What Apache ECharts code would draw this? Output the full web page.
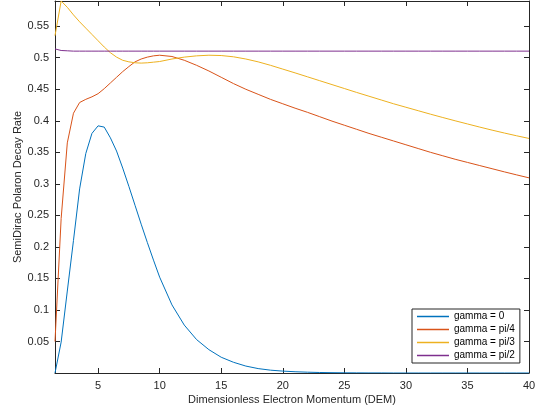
<!DOCTYPE html>
<html>
<head>
<meta charset="utf-8">
<script src="https://cdn.jsdelivr.net/npm/echarts@6/dist/echarts.min.js"></script>
<style>
  html, body { margin: 0; padding: 0; background: #ffffff; }
  #chart { width: 539px; height: 414px; }
</style>
</head>
<body>
<div id="chart"></div>
<script>
// Dimensionless electron momentum samples
const momentum = [1.5, 2, 2.5, 3, 3.5, 4, 4.5, 5, 5.5, 6, 6.5, 7, 7.5, 8, 8.5, 9, 9.5, 10,
  11, 12, 13, 14, 15, 16, 17, 18, 19, 20, 21, 22, 23, 24, 25, 26, 27, 28, 29, 30,
  31, 32, 33, 34, 35, 36, 37, 38, 39, 40];

// Decay rate for each gamma
const rateGamma0 = [0, 0.049, 0.13, 0.21, 0.292, 0.348, 0.380, 0.392, 0.390, 0.373, 0.352, 0.325, 0.296, 0.266, 0.236, 0.207, 0.179, 0.152,
  0.108, 0.076, 0.053, 0.037, 0.025, 0.017, 0.011, 0.007, 0.0045, 0.003, 0.002, 0.0013, 0.0008, 0.0005, 0.0003, 0.0002, 0.0001, 0.0001, 0, 0,
  0, 0, 0, 0, 0, 0, 0, 0, 0, 0];
const rateGammaPi4 = [0.05, 0.245, 0.365, 0.412, 0.429, 0.434, 0.438, 0.443, 0.451, 0.460, 0.469, 0.478, 0.486, 0.4935, 0.498, 0.501, 0.503, 0.504,
  0.502, 0.496, 0.488, 0.479, 0.469, 0.459, 0.450, 0.442, 0.434, 0.427, 0.420, 0.4135, 0.4065, 0.3995, 0.393, 0.3865, 0.380, 0.374, 0.368, 0.362,
  0.356, 0.350, 0.3445, 0.339, 0.334, 0.329, 0.324, 0.319, 0.3142, 0.3095];
const rateGammaPi3 = [0.535, 0.590, 0.580, 0.568, 0.557, 0.547, 0.537, 0.527, 0.517, 0.508, 0.501, 0.496, 0.4935, 0.492, 0.4915, 0.492, 0.493, 0.494,
  0.498, 0.501, 0.503, 0.504, 0.5035, 0.5015, 0.498, 0.4935, 0.488, 0.482, 0.476, 0.4698, 0.4636, 0.4574, 0.4512, 0.445, 0.439, 0.433, 0.427, 0.4215,
  0.416, 0.4105, 0.4052, 0.400, 0.395, 0.390, 0.3852, 0.3806, 0.3762, 0.372];
const rateGammaPi2 = [0.514, 0.5115, 0.511, 0.5105, 0.5105, 0.5105, 0.5105, 0.5105, 0.5105, 0.5105, 0.5105, 0.5105, 0.5105, 0.5105, 0.5105, 0.5105, 0.5105, 0.5105,
  0.5105, 0.5105, 0.5105, 0.5105, 0.5105, 0.5105, 0.5105, 0.5105, 0.5105, 0.5105, 0.5105, 0.5105, 0.5105, 0.5105, 0.5105, 0.5105, 0.5105, 0.5105, 0.5105, 0.5105,
  0.5105, 0.5105, 0.5105, 0.5105, 0.5105, 0.5105, 0.5105, 0.5105, 0.5105, 0.5105];

const seriesNames = ['gamma = 0', 'gamma = pi/4', 'gamma = pi/3', 'gamma = pi/2'];
const seriesColors = ['#0072BD', '#D95319', '#EDB120', '#7E2F8E'];
const seriesRates = [rateGamma0, rateGammaPi4, rateGammaPi3, rateGammaPi2];

// Tick positions
const xTicks = [5, 10, 15, 20, 25, 30, 35, 40];
const yTicks = [0.05, 0.1, 0.15, 0.2, 0.25, 0.3, 0.35, 0.4, 0.45, 0.5, 0.55];

const X_MIN = 1.5, X_MAX = 40, Y_MIN = 0, Y_MAX = 0.59;
const FONT = '"Liberation Sans", Arial, Helvetica, sans-serif';
const AXIS_COLOR = '#262626';

// Box-style frame axis: line plus inward ticks, no labels
function frameAxis(position, ticks, isX) {
  return {
    type: 'value',
    position: position,
    min: isX ? X_MIN : Y_MIN,
    max: isX ? X_MAX : Y_MAX,
    axisLine: { show: true, onZero: false, lineStyle: { color: AXIS_COLOR, width: 1 } },
    axisTick: { show: true, inside: true, length: 5, customValues: ticks, lineStyle: { color: AXIS_COLOR, width: 1 } },
    axisLabel: { show: false },
    splitLine: { show: false }
  };
}

const chart = echarts.init(document.getElementById('chart'), null, { renderer: 'canvas' });

const xBottom = Object.assign(frameAxis('bottom', xTicks, true), {
  axisLabel: {
    show: true, customValues: xTicks, color: AXIS_COLOR, fontSize: 11, fontFamily: FONT, margin: 7,
    formatter: v => String(v)
  },
  name: 'Dimensionless Electron Momentum (DEM)',
  nameLocation: 'middle',
  nameGap: 21,
  nameMoveOverlap: false,
  nameTextStyle: { color: AXIS_COLOR, fontSize: 11, fontFamily: FONT }
});
const xTop = frameAxis('top', xTicks, true);

const yLeft = Object.assign(frameAxis('left', yTicks, false), {
  axisLabel: {
    show: true, customValues: yTicks, color: AXIS_COLOR, fontSize: 11, fontFamily: FONT, margin: 6,
    formatter: v => String(+Number(v).toFixed(2))
  },
  name: 'SemiDirac Polaron Decay Rate',
  nameLocation: 'middle',
  nameGap: 32,
  nameMoveOverlap: false,
  nameTextStyle: { color: AXIS_COLOR, fontSize: 11, fontFamily: FONT }
});
const yRight = frameAxis('right', yTicks, false);

chart.setOption({
  animation: false,
  backgroundColor: '#ffffff',
  grid: { left: 55, right: 10, top: 1, bottom: 41, containLabel: false },
  xAxis: [xBottom, xTop],
  yAxis: [yLeft, yRight],
  legend: {
    orient: 'vertical',
    left: 412,
    top: 309,
    padding: [2, 5, 2, 5],
    itemGap: 2,
    icon: 'rect',
    itemWidth: 32,
    itemHeight: 1.5,
    backgroundColor: '#ffffff',
    borderColor: AXIS_COLOR,
    borderWidth: 1,
    borderRadius: 0,
    textStyle: { color: '#000000', fontSize: 10, fontFamily: FONT, lineHeight: 11 },
    data: seriesNames
  },
  series: seriesNames.map((name, i) => ({
    name: name,
    type: 'line',
    xAxisIndex: 0,
    yAxisIndex: 0,
    symbol: 'none',
    showSymbol: false,
    clip: true,
    color: seriesColors[i],
    lineStyle: { color: seriesColors[i], width: 1 },
    data: momentum.map((x, j) => [x, seriesRates[i][j]])
  }))
});
</script>
</body>
</html>
